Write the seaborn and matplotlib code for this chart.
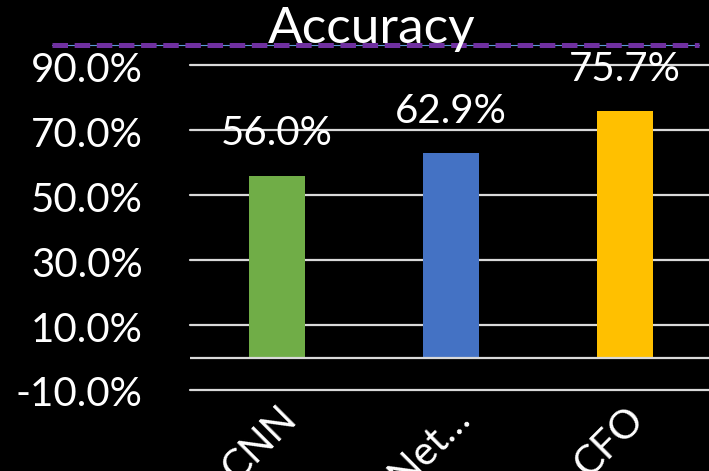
import matplotlib
matplotlib.use("Agg")
import matplotlib.pyplot as plt
import seaborn as sns
import pandas as pd
from matplotlib.lines import Line2D
from matplotlib.ticker import FuncFormatter
from matplotlib.transforms import ScaledTranslation

categories = ["CNN", "ConvNet…", "CFO"]
accuracy = [56.0, 62.9, 75.7]
colors = ["#70AD47", "#4472C4", "#FFC000"]
yticks = [-10, 10, 30, 50, 70, 90]

sns.set_theme(style="dark")
plt.rcParams["font.family"] = ["Lato", "DejaVu Sans"]

df = pd.DataFrame({"model": categories, "acc": accuracy})

W, H = 709, 471
fig = plt.figure(figsize=(W / 100, H / 100), dpi=100, facecolor="black")
ax = fig.add_axes([190 / W, 1 - 390 / H, 522 / W, (390 - 65) / H])
ax.set_facecolor("black")

sns.barplot(data=df, x="model", y="acc", hue="model", palette=colors,
            width=0.32, legend=False, ax=ax, saturation=1, zorder=3,
            linewidth=0, edgecolor="none")

ax.set_ylim(-10, 90)
ax.set_yticks(yticks)
ax.yaxis.set_major_formatter(FuncFormatter(lambda v, p: f"{v:.1f}%"))
for y in yticks:
    ax.axhline(y, color="#d9d9d9", lw=1.6, zorder=1, clip_on=False)
ax.axhline(0, color="#d9d9d9", lw=1.6, zorder=4)
ax.grid(False)
for s in ax.spines.values():
    s.set_visible(False)

ax.tick_params(axis="y", colors="white", labelsize=29, length=0, pad=34)
ax.tick_params(axis="x", colors="white", labelsize=29, length=0, pad=7)
shift = ScaledTranslation(0, -5 / 100, fig.dpi_scale_trans)
for lbl in ax.get_yticklabels():
    lbl.set_verticalalignment("center")
    lbl.set_transform(lbl.get_transform() + shift)
ax.set_xlabel("")
ax.set_ylabel("")
plt.setp(ax.get_xticklabels(), rotation=45, ha="right", va="top",
         rotation_mode="anchor")

for i, v in enumerate(accuracy):
    ax.annotate(f"{v:.1f}%", (i, v), xytext=(0, 30), textcoords="offset points",
                ha="center", va="center", color="white", fontsize=29, zorder=5)

fig.text(372 / W, 1 - 43 / H, "Accuracy", ha="center", va="baseline",
         color="white", fontsize=37)

fig.add_artist(Line2D([52 / W, 699 / W], [1 - 45 / H, 1 - 45 / H],
                      transform=fig.transFigure, color="#5b9bd5", lw=0.8))
fig.add_artist(Line2D([52 / W, 699 / W], [1 - 45 / H, 1 - 45 / H],
                      transform=fig.transFigure, color="#7030A0", lw=3.6,
                      linestyle=(0, (3.1, 1.33))))

fig.savefig("out.png", dpi=100, facecolor="black")
